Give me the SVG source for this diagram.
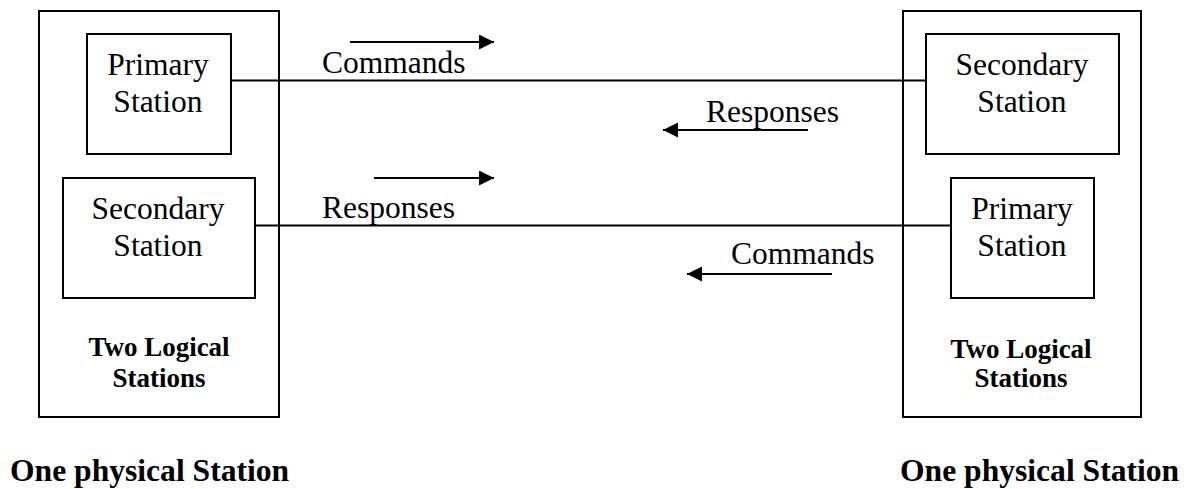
<svg xmlns="http://www.w3.org/2000/svg" width="1193" height="489" viewBox="0 0 1193 489">
<style>
.box{fill:#fff;stroke:#000;stroke-width:2}
.wire{stroke:#000;stroke-width:2;fill:none}
.arr{stroke:#000;stroke-width:2;fill:none;marker-end:url(#ah)}
.t{font-family:"Liberation Serif","Times New Roman",serif;font-size:31.5px;fill:#000;text-anchor:middle}
.tl{font-family:"Liberation Serif","Times New Roman",serif;font-size:31.5px;fill:#000}
.b{font-family:"Liberation Serif","Times New Roman",serif;font-size:27px;font-weight:bold;fill:#000;text-anchor:middle}
.bb{font-family:"Liberation Serif","Times New Roman",serif;font-size:31.6px;font-weight:bold;fill:#000}
</style>
<defs>
<marker id="ah" markerUnits="userSpaceOnUse" markerWidth="16" markerHeight="16" refX="15" refY="7.5" orient="auto">
<path d="M0,0 L15,7.5 L0,15 Z" fill="#000"/>
</marker>
</defs>
<rect width="1193" height="489" fill="#fff"/>
<g id="left-station">
<rect class="box" x="39" y="11" width="240" height="406"/>
<text class="b" x="159" y="356">Two Logical</text>
<text class="b" x="159" y="387">Stations</text>
</g>
<g id="right-station">
<rect class="box" x="903" y="11" width="238" height="406"/>
<text class="b" x="1021" y="358">Two Logical</text>
<text class="b" x="1021" y="387">Stations</text>
</g>
<g id="left-primary">
<rect class="box" x="87" y="34" width="144" height="120"/>
<text class="t" x="158" y="75">Primary</text>
<text class="t" x="158" y="112">Station</text>
</g>
<g id="left-secondary">
<rect class="box" x="63" y="178" width="192" height="120"/>
<text class="t" x="158" y="219">Secondary</text>
<text class="t" x="158" y="256">Station</text>
</g>
<g id="right-secondary">
<rect class="box" x="926" y="34" width="193" height="120"/>
<text class="t" x="1022" y="75">Secondary</text>
<text class="t" x="1022" y="112">Station</text>
</g>
<g id="right-primary">
<rect class="box" x="951" y="178" width="143" height="120"/>
<text class="t" x="1022" y="219">Primary</text>
<text class="t" x="1022" y="256">Station</text>
</g>
<g id="connectors">
<line class="wire" x1="231" y1="80.5" x2="926" y2="80.5"/>
<line class="wire" x1="255" y1="225.5" x2="951" y2="225.5"/>
<line class="arr" x1="350" y1="42" x2="494" y2="42"/>
<line class="arr" x1="374" y1="178" x2="494" y2="178"/>
<line class="arr" x1="808" y1="130" x2="663" y2="130"/>
<line class="arr" x1="832" y1="274" x2="687" y2="274"/>
<text class="tl" x="322" y="73">Commands</text>
<text class="tl" x="322" y="218">Responses</text>
<text class="tl" x="706" y="122">Responses</text>
<text class="tl" x="731" y="264">Commands</text>
</g>
<text class="bb" x="10" y="481">One physical Station</text>
<text class="bb" x="900" y="481">One physical Station</text>
</svg>
